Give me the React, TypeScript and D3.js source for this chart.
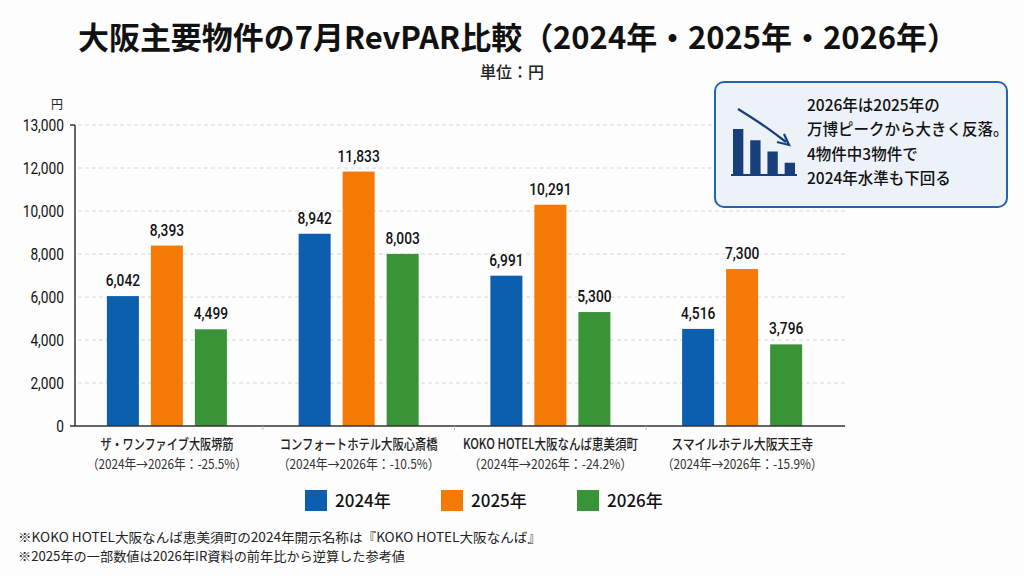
import React from "react";
import * as d3 from "d3";

const categories = [
  "ザ・ワンファイブ大阪堺筋",
  "コンフォートホテル大阪心斎橋",
  "KOKO HOTEL大阪なんば恵美須町",
  "スマイルホテル大阪天王寺",
];
const changeLabels = [
  "（2024年→2026年：-25.5%）",
  "（2024年→2026年：-10.5%）",
  "（2024年→2026年：-24.2%）",
  "（2024年→2026年：-15.9%）",
];
const seriesNames = ["2024年", "2025年", "2026年"];
const values2024 = [6042, 8942, 6991, 4516];
const values2025 = [8393, 11833, 10291, 7300];
const values2026 = [4499, 8003, 5300, 3796];
const yTickValues = [0, 2000, 4000, 6000, 8000, 10000, 12000, 14000];
const yTickLabels = ["0", "2,000", "4,000", "6,000", "8,000", "10,000", "12,000", "13,000"];
const title = "大阪主要物件の7月RevPAR比較（2024年・2025年・2026年）";
const subtitle = "単位：円";
const calloutLines = [
  "2026年は2025年の",
  "万博ピークから大きく反落。",
  "4物件中3物件で",
  "2024年水準も下回る",
];
const iconBars = [4, 3, 2, 1];
const footnotes = [
  "※KOKO HOTEL大阪なんば恵美須町の2024年開示名称は『KOKO HOTEL大阪なんば』",
  "※2025年の一部数値は2026年IR資料の前年比から逆算した参考値",
];

const colors = ["#0b5fae", "#f47a05", "#389436"];
const FONT = "'Noto Sans CJK JP', 'Noto Sans', sans-serif";
const NUMFONT = "Roboto, 'Noto Sans CJK JP', sans-serif";

// measured text widths (px) of the reference's condensed labels
const labelWidths = [133, 158, 175, 142];
const changeWidths = [160, 162, 164, 161];
const footnoteWidths = [523, 387];

function Cond({ x, y, sx = 0.86, anchor = "start", children, ...rest }: any) {
  return (
    <text transform={`translate(${x},${y}) scale(${sx},1)`} textAnchor={anchor} {...rest}>
      {children}
    </text>
  );
}

export default function App() {
  const seriesValues = [values2024, values2025, values2026];
  const x0 = d3.scaleBand<string>().domain(categories).range([71, 838]).padding(0);
  const x1 = d3
    .scaleBand<string>()
    .domain(seriesNames)
    .range([0, 120])
    .paddingInner(12 / 44)
    .paddingOuter(0);
  const groupOffset = (x0.bandwidth() - 120) / 2;
  const y = d3.scaleLinear().domain([0, 14000]).range([426, 125]);
  const axisX = 75;

  const iconX = d3
    .scaleBand<number>()
    .domain(d3.range(iconBars.length))
    .range([733, 795])
    .paddingInner(0.4)
    .paddingOuter(0);
  const iconY = d3.scaleLinear().domain([0, 4]).range([174, 129]);
  const arrowPath = d3.line<[number, number]>().curve(d3.curveBasis)([
    [738, 109],
    [762, 124],
    [786, 142],
  ]);

  const legendX = d3.scalePoint<string>().domain(seriesNames).range([305, 577]);

  return (
    <svg
      width={1024}
      height={576}
      style={{ position: "absolute", left: 0, top: 0, background: "#fdfdfd" }}
      fontFamily={FONT}
    >
      <rect x={0} y={0} width={1024} height={576} fill="#fdfdfd" />
      {/* Title */}
      <text
        x={78}
        y={49}
        fontSize={31}
        fontWeight={700}
        fill="#111"
        textLength={880}
        lengthAdjust="spacingAndGlyphs"
      >
        {title}
      </text>
      <text x={512} y={78} textAnchor="middle" fontSize={16} fontWeight={500} fill="#222">
        {subtitle}
      </text>

      {/* gridlines */}
      {yTickValues.slice(1).map((v) => (
        <line
          key={v}
          x1={axisX + 3}
          x2={845}
          y1={y(v)}
          y2={y(v)}
          stroke="#d6d6d6"
          strokeDasharray="4,3"
          strokeWidth={1}
        />
      ))}

      {/* y axis */}
      <text x={57} y={109} textAnchor="middle" fontSize={12} fill="#222">
        円
      </text>
      {yTickValues.map((v, i) => (
        <Cond key={v} x={64} y={y(v) + 5.5} anchor="end" fontSize={16} fontFamily={NUMFONT} fill="#111">
          {yTickLabels[i]}
        </Cond>
      ))}
      <line x1={axisX} x2={axisX} y1={y(14000)} y2={y(0)} stroke="#333" strokeWidth={1.5} />
      <line x1={axisX - 5} x2={axisX} y1={y(14000)} y2={y(14000)} stroke="#333" strokeWidth={1.5} />

      {/* bars */}
      {categories.map((c, ci) => (
        <g key={c} transform={`translate(${(x0(c) ?? 0) + groupOffset},0)`}>
          {seriesNames.map((s, si) => {
            const v = seriesValues[si][ci];
            const bx = x1(s) ?? 0;
            return (
              <g key={s}>
                <rect x={bx} y={y(v)} width={x1.bandwidth()} height={y(0) - y(v)} fill={colors[si]} />
                <Cond
                  x={bx + x1.bandwidth() / 2}
                  y={y(v) - 10}
                  anchor="middle"
                  fontSize={16}
                  fontWeight={500}
                  fontFamily={NUMFONT}
                  fill="#111"
                >
                  {d3.format(",")(v)}
                </Cond>
              </g>
            );
          })}
        </g>
      ))}

      {/* x axis */}
      <line x1={70} x2={845} y1={y(0)} y2={y(0)} stroke="#333" strokeWidth={1.5} />
      {categories.slice(1).map((c) => (
        <line key={c} x1={x0(c)} x2={x0(c)} y1={y(0)} y2={y(0) + 4} stroke="#bbb" strokeWidth={1} />
      ))}
      {categories.map((c, i) => {
        const cx = (x0(c) ?? 0) + x0.bandwidth() / 2;
        return (
          <g key={c}>
            <text
              x={cx - labelWidths[i] / 2}
              y={449}
              fontSize={14}
              fontWeight={500}
              fill="#222"
              textLength={labelWidths[i]}
              lengthAdjust="spacingAndGlyphs"
            >
              {c}
            </text>
            <text
              x={cx - changeWidths[i] / 2}
              y={469}
              fontSize={13.5}
              fill="#333"
              textLength={changeWidths[i]}
              lengthAdjust="spacingAndGlyphs"
            >
              {changeLabels[i]}
            </text>
          </g>
        );
      })}

      {/* legend */}
      {seriesNames.map((s, i) => (
        <g key={s} transform={`translate(${legendX(s)},490)`}>
          <rect x={0} y={0} width={22} height={21} fill={colors[i]} />
          <text x={30} y={17} fontSize={17} fontWeight={500} fill="#111">
            {s}
          </text>
        </g>
      ))}

      {/* callout */}
      <rect x={715} y={82} width={292} height={125} rx={9} fill="#edf2f8" stroke="#2463ad" strokeWidth={2} />
      {iconBars.map((b, i) => (
        <rect
          key={i}
          x={iconX(i)}
          y={iconY(b)}
          width={iconX.bandwidth()}
          height={iconY(0) - iconY(b)}
          fill="#173f7c"
        />
      ))}
      <line x1={731} x2={797} y1={175} y2={175} stroke="#173f7c" strokeWidth={2} />
      <path d={arrowPath ?? ""} fill="none" stroke="#173f7c" strokeWidth={2.2} />
      <path
        d="M777,142 L789,145 L784,134"
        fill="none"
        stroke="#173f7c"
        strokeWidth={2.2}
        strokeLinejoin="miter"
      />
      {calloutLines.map((l, i) => (
        <text key={i} x={807} y={111 + i * 24.3} fontSize={15.5} fontWeight={500} fill="#111">
          {l}
        </text>
      ))}

      {/* footnotes */}
      {footnotes.map((f, i) => (
        <text
          key={i}
          x={18}
          y={542 + i * 19}
          fontSize={13}
          fill="#222"
          textLength={footnoteWidths[i]}
          lengthAdjust="spacingAndGlyphs"
        >
          {f}
        </text>
      ))}
    </svg>
  );
}
